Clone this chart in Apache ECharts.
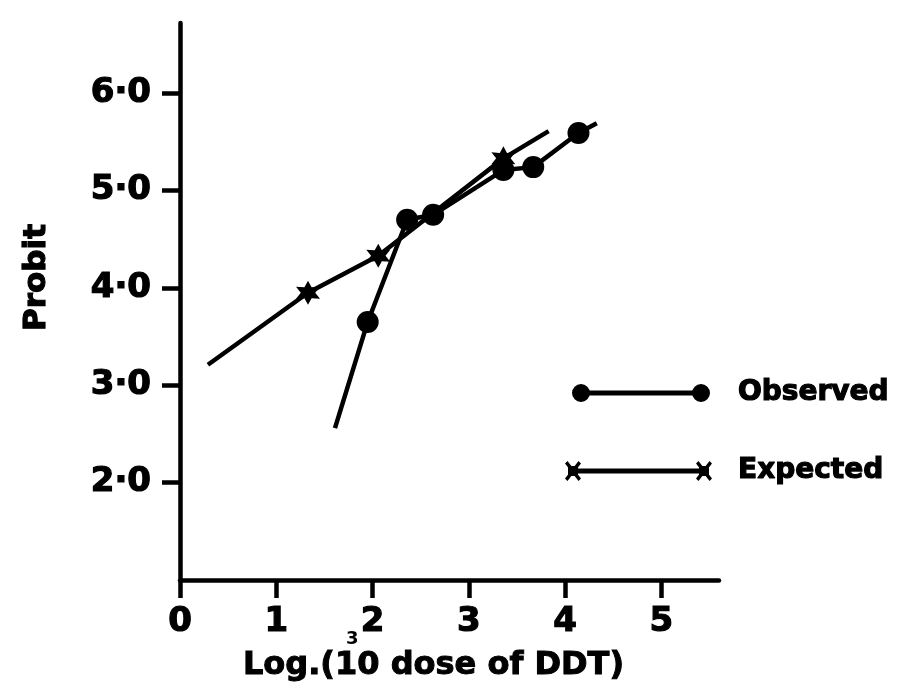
<!DOCTYPE html>
<html>
<head>
<meta charset="utf-8">
<script src="https://cdn.jsdelivr.net/npm/echarts@6/dist/echarts.min.js"></script>
<style>html,body{margin:0;padding:0;background:#fff}#c{width:900px;height:694px}</style>
</head>
<body>
<div id="c"></div>
<script>
// ---- data ----
const xTicks = [0, 1, 2, 3, 4, 5];
const yTicks = [2, 3, 4, 5, 6];
const seriesNames = ['Observed', 'Expected'];
// Observed: log dose, probit, marker shown?
const observedX = [1.61, 1.95, 2.36, 2.63, 3.36, 3.67, 4.14, 4.33];
const observedY = [2.56, 3.65, 4.70, 4.75, 5.21, 5.24, 5.59, 5.69];
const observedMark = [false, true, true, true, true, true, true, false];
// Expected
const expectedX = [0.29, 1.33, 2.06, 3.36, 3.83];
const expectedY = [3.21, 3.95, 4.33, 5.33, 5.61];
const expectedMark = [false, true, true, true, false];

const FONT = 'DejaVu Sans';
const heavy = { fontFamily: FONT, fontWeight: 'bold', color: '#000', textBorderColor: '#000', textBorderWidth: 1.2 };
const STAR = 'path://M10,0 L12.6,5.5 L18.66,5 L15.2,10 L18.66,15 L12.6,14.5 L10,20 L7.4,14.5 L1.34,15 L4.8,10 L1.34,5 L7.4,5.5 Z';
const OBS_ICON = 'path://M0,9 A9,9 0 1,1 18,9 A9,9 0 1,1 0,9 Z M120,9 A9,9 0 1,1 138,9 A9,9 0 1,1 120,9 Z M9,6.5 L129,6.5 L129,11.5 L9,11.5 Z';
function xMark(cx) {
  return `M${cx-8},2.5 L${cx-5.5},0 L${cx+8},17.5 L${cx+5.5},20 Z M${cx+5.5},0 L${cx+8},2.5 L${cx-5.5},20 L${cx-8},17.5 Z M${cx-5},5 L${cx+5},5 L${cx+5},15 L${cx-5},15 Z`;
}
const EXP_ICON = 'path://' + xMark(8) + ' ' + xMark(139) + ' M8,7.5 L139,7.5 L139,12.5 L8,12.5 Z';

function build(xs, ys, marks, sym, size) {
  return xs.map((x, i) => ({ value: [x, ys[i]], symbol: marks[i] ? sym : 'none', symbolSize: size }));
}

const chart = echarts.init(document.getElementById('c'), null, { renderer: 'canvas' });
chart.setOption({
  animation: false,
  backgroundColor: '#fff',
  grid: { left: 180, right: 181, top: 23, bottom: 114, containLabel: false },
  xAxis: {
    type: 'value', min: 0, max: 5.6,
    name: 'Log.(10 dose of DDT)', nameLocation: 'middle', nameGap: 70,
    nameTextStyle: Object.assign({}, heavy, { fontSize: 32, padding: [0, 32, 0, 0], textBorderWidth: 1 }),
    axisLine: { onZero: false, lineStyle: { color: '#000', width: 4.5 } },
    axisTick: { show: true, length: 18, lineStyle: { color: '#000', width: 4.5 }, customValues: xTicks },
    axisLabel: Object.assign({}, heavy, { margin: 25, fontSize: 34, customValues: xTicks, formatter: v => String(v) }),
    splitLine: { show: false }
  },
  yAxis: {
    type: 'value', min: 1, max: 6.72,
    name: 'Probit', nameLocation: 'middle', nameRotate: 90, nameGap: 128,
    nameTextStyle: Object.assign({}, heavy, { fontSize: 31, padding: [0, 0, 0, 48] }),
    axisLine: { onZero: false, lineStyle: { color: '#000', width: 4.5 } },
    axisTick: { show: true, length: 18, lineStyle: { color: '#000', width: 4.5 }, customValues: yTicks },
    axisLabel: Object.assign({}, heavy, { margin: 29, fontSize: 34, customValues: yTicks, formatter: v => v.toFixed(1).replace('.', '·') }),
    splitLine: { show: false }
  },
  legend: [
    { data: [seriesNames[0]], left: 567, top: 373, orient: 'horizontal', icon: OBS_ICON,
      itemWidth: 138, itemHeight: 18, itemStyle: { color: '#000', borderWidth: 0 },
      textStyle: Object.assign({}, heavy, { fontSize: 28, lineHeight: 30, padding: [0, 0, 0, 23] }) },
    { data: [seriesNames[1]], left: 560, top: 451, orient: 'horizontal', icon: EXP_ICON,
      itemWidth: 147, itemHeight: 20, itemStyle: { color: '#000', borderWidth: 0 },
      textStyle: Object.assign({}, heavy, { fontSize: 28, lineHeight: 30, padding: [0, 0, 0, 21] }) }
  ],
  graphic: [
    { type: 'text', left: 346, top: 630, style: { text: '3', font: 'bold 18px "DejaVu Sans"', fill: '#000' } }
  ],
  series: [
    { name: seriesNames[0], type: 'line', data: build(observedX, observedY, observedMark, 'circle', 22),
      lineStyle: { color: '#000', width: 4.5 }, itemStyle: { color: '#000' }, showAllSymbol: true, z: 3 },
    { name: seriesNames[1], type: 'line', data: build(expectedX, expectedY, expectedMark, STAR, 24),
      lineStyle: { color: '#000', width: 4.5 }, itemStyle: { color: '#000' }, showAllSymbol: true, z: 4 }
  ]
});
</script>
</body>
</html>
